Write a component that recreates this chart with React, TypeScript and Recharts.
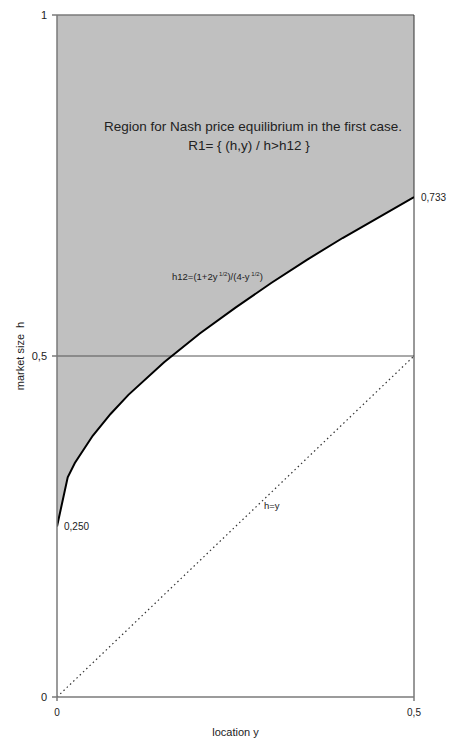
import React from 'react';
import {
  ComposedChart,
  Area,
  Line,
  XAxis,
  YAxis,
  ReferenceLine,
  LabelList,
} from 'recharts';

// location y (x axis)
const yLoc = [0, 0.015, 0.025, 0.05, 0.075, 0.1, 0.15, 0.2, 0.25, 0.3, 0.35, 0.4, 0.45, 0.5];
// h12 curve values
const h12 = [0.25, 0.322, 0.343, 0.383, 0.415, 0.443, 0.491, 0.533, 0.571, 0.607, 0.641, 0.673, 0.703, 0.733];
// h = y diagonal
const diagY = [0, 0.5];
const diagH = [0, 0.5];
// ticks
const xTicks = [0, 0.5];
const yTicks = [0, 0.5, 1];

const FONT = '"Liberation Sans", Arial, Helvetica, sans-serif';

const curveData = yLoc.map((y, i) => ({ y, h: h12[i], range: [h12[i], 1] }));
const diagData = diagY.map((y, i) => ({ y, hy: diagH[i] }));

const fmt = (v: number) => String(v).replace('.', ',');

const EndLabel = (props: any) => {
  const { x, y, index, value } = props;
  if (index !== 0 && index !== yLoc.length - 1) return null;
  return (
    <text
      x={x + 7}
      y={y}
      dy={3.5}
      fontSize={10}
      fontFamily={FONT}
      fill="#222"
      textAnchor="start"
    >
      {Number(value).toFixed(3).replace('.', ',')}
    </text>
  );
};

export default function App() {
  return (
    <div style={{ position: 'absolute', left: 0, top: 0, width: 461, height: 745, background: '#fff' }}>
      <ComposedChart
        width={461}
        height={745}
        margin={{ top: 15, right: 47, bottom: 0, left: 17 }}
        style={{ fontFamily: FONT }}
      >
        <XAxis
          dataKey="y"
          type="number"
          domain={[0, 0.5]}
          ticks={xTicks}
          tickFormatter={fmt}
          height={48}
          tickSize={4}
          tickMargin={8}
          stroke="#7a7a7a"
          strokeWidth={1.5}
          tick={{ fill: '#222', fontSize: 10, fontFamily: FONT }}
          allowDataOverflow
          label={{
            value: 'location y',
            position: 'insideBottom',
            offset: 9,
            fill: '#222',
            fontSize: 11,
            fontFamily: FONT,
          }}
        />
        <YAxis
          type="number"
          domain={[0, 1]}
          ticks={yTicks}
          tickFormatter={fmt}
          width={40}
          tickSize={5}
          tickMargin={5}
          stroke="#7a7a7a"
          strokeWidth={1.5}
          tick={{ fill: '#222', fontSize: 11, fontFamily: FONT }}
          allowDataOverflow
        />
        <Area
          data={curveData}
          dataKey="range"
          type="linear"
          fill="#c0c0c0"
          fillOpacity={1}
          stroke="none"
          isAnimationActive={false}
          activeDot={false}
        />
        <ReferenceLine y={0.5} stroke="#555" strokeWidth={1} />
        <ReferenceLine y={1} stroke="#7a7a7a" strokeWidth={1.5} />
        <ReferenceLine x={0.5} stroke="#333" strokeWidth={1} />
        <Line
          data={diagData}
          dataKey="hy"
          type="linear"
          stroke="#333"
          strokeWidth={1.2}
          strokeDasharray="1.5 3"
          dot={false}
          activeDot={false}
          isAnimationActive={false}
        />
        <Line
          data={curveData}
          dataKey="h"
          type="linear"
          stroke="#000"
          strokeWidth={2}
          dot={false}
          activeDot={false}
          isAnimationActive={false}
        >
          <LabelList dataKey="h" content={EndLabel} />
        </Line>
      </ComposedChart>
      <svg
        width={461}
        height={745}
        style={{ position: 'absolute', left: 0, top: 0, pointerEvents: 'none' }}
      >
        <text x={253} y={131} fontSize={13.5} fontFamily={FONT} fill="#222" textAnchor="middle">
          Region for Nash price equilibrium in the first case.
        </text>
        <text x={249} y={150} fontSize={13.5} fontFamily={FONT} fill="#222" textAnchor="middle">
          {'R1= { (h,y) / h>h12 }'}
        </text>
        <text x={172} y={279.5} fontSize={9.5} fontFamily={FONT} fill="#222">
          h12=(1+2y
          <tspan fontSize={6} dy={-4}> 1/2</tspan>
          <tspan dy={4}>)/(4-y</tspan>
          <tspan fontSize={6} dy={-4}> 1/2</tspan>
          <tspan dy={4}>)</tspan>
        </text>
        <text x={264} y={508.5} fontSize={9.5} fontFamily={FONT} fill="#222">
          h=y
        </text>
        <text
          x={24}
          y={356}
          fontSize={11}
          fontFamily={FONT}
          fill="#222"
          textAnchor="middle"
          transform="rotate(-90 24 356)"
        >
          {'market size\u00a0 h'}
        </text>
      </svg>
    </div>
  );
}
